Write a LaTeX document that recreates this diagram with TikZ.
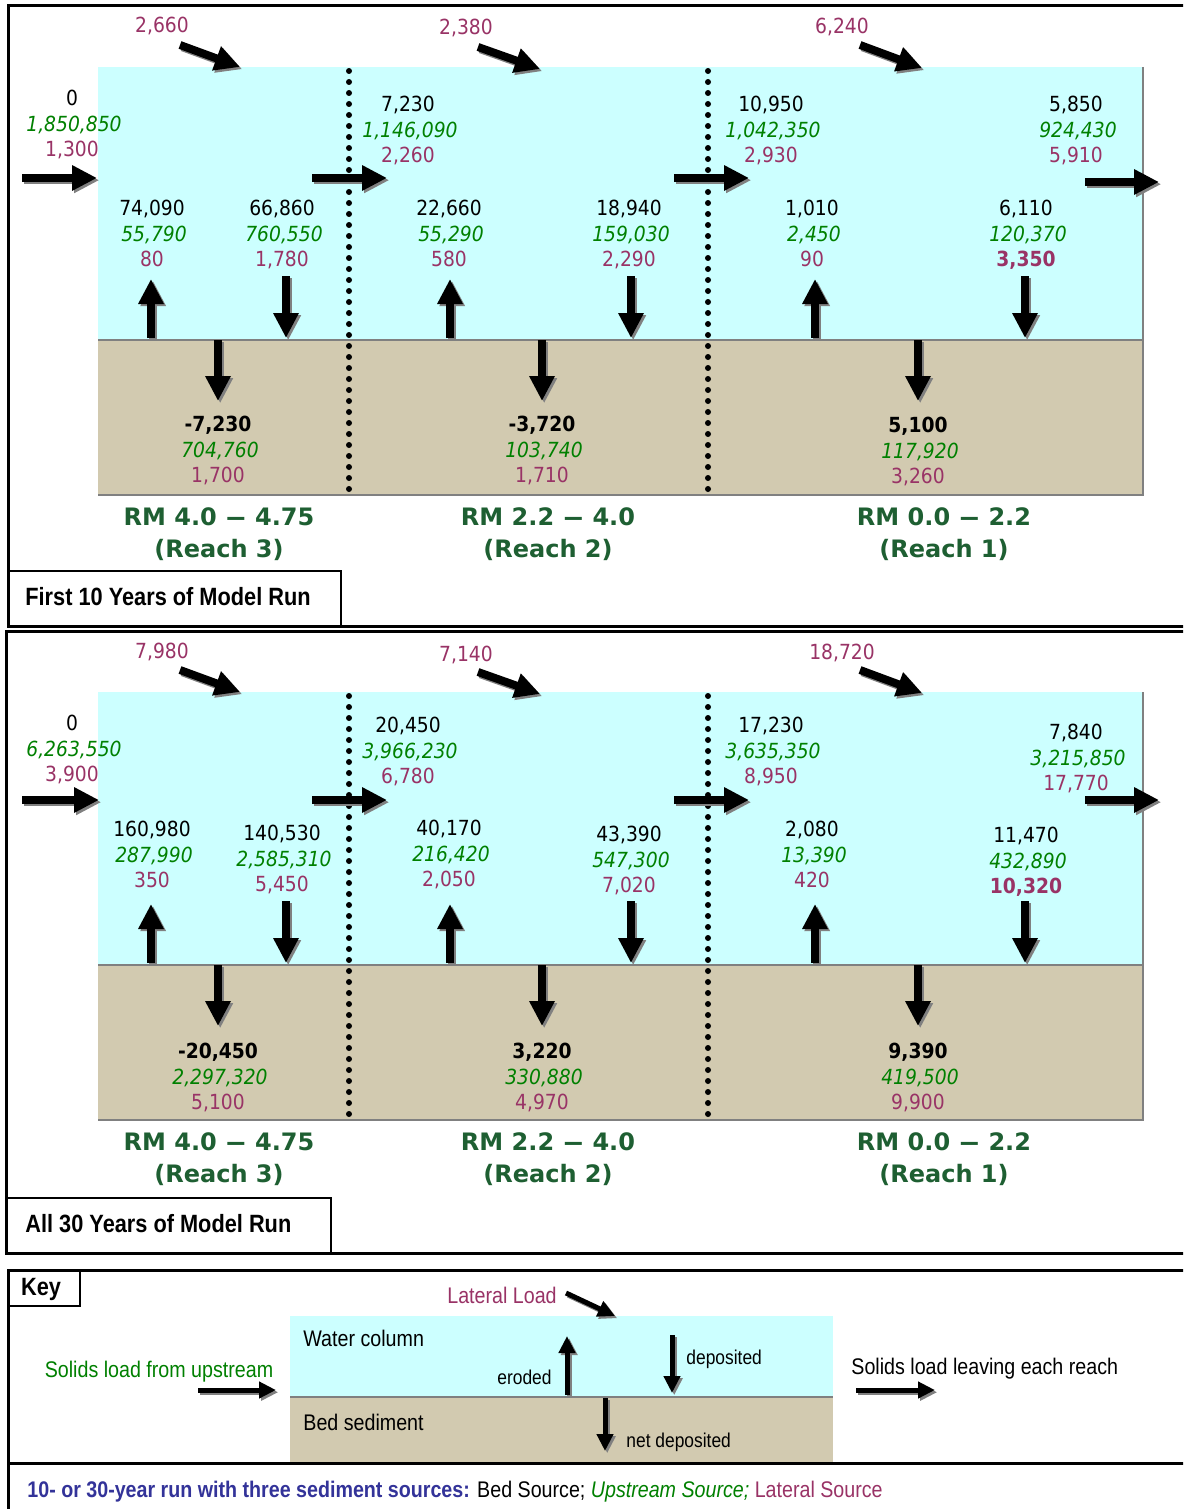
\documentclass[tikz,border=0pt]{standalone}
\usepackage{fontspec}
\setmainfont{Liberation Sans}
\newfontfamily\numf{DejaVu Sans Condensed}
\newfontfamily\labf{DejaVu Sans}
\newfontfamily\narrowf[FakeStretch=0.87]{Liberation Sans}
\usetikzlibrary{arrows.meta}

\definecolor{waterc}{HTML}{CCFFFF}
\definecolor{bedc}{HTML}{D2CAB0}
\definecolor{plum}{HTML}{993366}
\definecolor{grn}{HTML}{008000}
\definecolor{rmgreen}{HTML}{1E5F32}
\definecolor{ftblue}{HTML}{333399}

\newcommand\numsize{\fontsize{10.4pt}{12pt}\selectfont}
% wide dash used in the reach ranges
\newcommand\rmdash{\scalebox{1.8}[1]{–}}

\tikzset{
  bigarrow/.style={line width=4pt, -{Triangle[length=12.5pt,width=12pt]}},
  keyarrow/.style={line width=2.5pt, -{Triangle[length=8.5pt,width=8pt]}},
  num/.style={anchor=base, inner sep=0pt, font=\numf\numsize},
  reach/.style={anchor=base, inner sep=0pt, text=rmgreen, font=\labf\bfseries\fontsize{12pt}{14pt}\selectfont},
  keytxt/.style={inner sep=0pt, font=\narrowf\fontsize{11.3pt}{13pt}\selectfont},
  smalltxt/.style={inner sep=0pt, font=\narrowf\fontsize{10pt}{12pt}\selectfont},
  titletxt/.style={anchor=base west, inner sep=0pt, font=\narrowf\bfseries\fontsize{12.5pt}{14pt}\selectfont},
  frame/.style={line width=1.5pt},
  tabbox/.style={line width=1.1pt},
  edge/.style={black!50, line width=1.2pt},
  dots/.style={line width=3pt, line cap=round, dash pattern=on 0pt off 5.5pt},
}

% block arrow with a grey drop shadow, between two named coordinates
\newcommand\flow[4][bigarrow]{%
  \coordinate (#2-a) at (#3);
  \coordinate (#2-b) at (#4);
  \draw[#1, black!50, transform canvas={shift={(1.1pt,-1.1pt)}}] (#2-a) -- (#2-b);
  \draw[#1, black] (#2-a) -- (#2-b);}

% three stacked loads: bed (black), upstream (green italic), lateral (plum)
\newcommand\vals[6]{%
  \node[num] (#1-a) at (#2,#3+7.5) {#4};
  \node[num, text=grn, font=\numf\numsize\itshape] (#1-b) at (#2+2,#3+33.2) {#5};
  \node[num, text=plum] (#1-c) at (#2,#3+58.9) {#6};}

% water column, bed and reach dividers of one model run
\newcommand\reaches[2]{%
  \fill[waterc] (98,67+#2) rectangle (1143,340+#2);
  \fill[bedc] (98,340+#2) rectangle (1143,495+#2);
  \draw[edge] (98,340+#2) -- (1143,340+#2);
  \draw[edge] (1143,67+#2) -- (1143,495+#2) -- (98,495+#2);
  \draw[dots] (349,71+#2) -- (349,494+#2);
  \draw[dots] (708,71+#2) -- (708,494+#2);
  \node[reach] (#1-r3a) at (219,525.5+#2) {RM 4.0 \rmdash{} 4.75};
  \node[reach] (#1-r3b) at (219,557.5+#2) {(Reach 3)};
  \node[reach] (#1-r2a) at (548,525.5+#2) {RM 2.2 \rmdash{} 4.0};
  \node[reach] (#1-r2b) at (548,557.5+#2) {(Reach 2)};
  \node[reach] (#1-r1a) at (944,525.5+#2) {RM 0.0 \rmdash{} 2.2};
  \node[reach] (#1-r1b) at (944,557.5+#2) {(Reach 1)};
  % lateral loads
  \flow{#1-l3}{180,45+#2}{240,67+#2}
  \flow{#1-l2}{478,47+#2}{540,69+#2}
  \flow{#1-l1}{860,45+#2}{922,68+#2}
  % erosion (up) and deposition (down)
  \flow{#1-e3}{151,338+#2}{151,279+#2}
  \flow{#1-e2}{450,338+#2}{450,279+#2}
  \flow{#1-e1}{815,338+#2}{815,279+#2}
  \flow{#1-d3}{286,276+#2}{286,338+#2}
  \flow{#1-d2}{631,276+#2}{631,338+#2}
  \flow{#1-d1}{1025,276+#2}{1025,338+#2}
  % net deposition into the bed
  \flow{#1-n3}{218,340+#2}{218,401+#2}
  \flow{#1-n2}{542,340+#2}{542,401+#2}
  \flow{#1-n1}{918,340+#2}{918,401+#2}}

\begin{document}
\begin{tikzpicture}[x=0.5pt, y=-0.5pt]
\useasboundingbox (0,0) rectangle (1183,1509);
\clip (0,0) rectangle (1183,1509);
\fill[white] (0,0) rectangle (1183,1509);

% ---------- first 10 years ----------
\reaches{pa}{0}
\flow{pa-in}{22,178}{97,178}
\flow{pa-h2}{312,178}{387,178}
\flow{pa-h1}{674,178}{749,178}
\flow{pa-out}{1085,182}{1159,182}

\node[num, text=plum] (pa-lat3) at (162,25+7.5) {2,660};
\node[num, text=plum] (pa-lat2) at (466,27+7.5) {2,380};
\node[num, text=plum] (pa-lat1) at (842,26+7.5) {6,240};

\vals{pa-up}{72}{98}{0}{1,850,850}{1,300}
\vals{pa-m2}{408}{104}{7,230}{1,146,090}{2,260}
\vals{pa-m1}{771}{104}{10,950}{1,042,350}{2,930}
\vals{pa-ot}{1076}{104}{5,850}{924,430}{5,910}
\vals{pa-e3v}{152}{208}{74,090}{55,790}{80}
\vals{pa-d3v}{282}{208}{66,860}{760,550}{1,780}
\vals{pa-e2v}{449}{208}{22,660}{55,290}{580}
\vals{pa-d2v}{629}{208}{18,940}{159,030}{2,290}
\vals{pa-e1v}{812}{208}{1,010}{2,450}{90}
\vals{pa-d1v}{1026}{208}{6,110}{120,370}{\bfseries 3,350}
\vals{pa-n3v}{218}{424}{\bfseries -7,230}{704,760}{1,700}
\vals{pa-n2v}{542}{424}{\bfseries -3,720}{103,740}{1,710}
\vals{pa-n1v}{918}{425}{\bfseries 5,100}{117,920}{3,260}

\draw[frame] (1200,6) -- (8,6) -- (8,626) -- (1200,626);
\draw[tabbox] (8,571) rectangle (341,626);
\node[titletxt] (pa-title) at (25,605) {First 10 Years of Model Run};

% ---------- all 30 years ----------
\reaches{pb}{625}
\flow{pb-in}{22,800}{99,800}
\flow{pb-h2}{312,800}{387,800}
\flow{pb-h1}{674,800}{749,800}
\flow{pb-out}{1085,800}{1159,800}

\node[num, text=plum] (pb-lat3) at (162,651+7.5) {7,980};
\node[num, text=plum] (pb-lat2) at (466,654+7.5) {7,140};
\node[num, text=plum] (pb-lat1) at (842,652+7.5) {18,720};

\vals{pb-up}{72}{723}{0}{6,263,550}{3,900}
\vals{pb-m2}{408}{725}{20,450}{3,966,230}{6,780}
\vals{pb-m1}{771}{725}{17,230}{3,635,350}{8,950}
\vals{pb-ot}{1076}{732}{7,840}{3,215,850}{17,770}
\vals{pb-e3v}{152}{829}{160,980}{287,990}{350}
\vals{pb-d3v}{282}{833}{140,530}{2,585,310}{5,450}
\vals{pb-e2v}{449}{828}{40,170}{216,420}{2,050}
\vals{pb-d2v}{629}{834}{43,390}{547,300}{7,020}
\vals{pb-e1v}{812}{829}{2,080}{13,390}{420}
\vals{pb-d1v}{1026}{835}{11,470}{432,890}{\bfseries 10,320}
\vals{pb-n3v}{218}{1051}{\bfseries -20,450}{2,297,320}{5,100}
\vals{pb-n2v}{542}{1051}{\bfseries 3,220}{330,880}{4,970}
\vals{pb-n1v}{918}{1051}{\bfseries 9,390}{419,500}{9,900}

\draw[frame] (1200,631) -- (6,631) -- (6,1253) -- (1200,1253);
\draw[tabbox] (6,1198) rectangle (331,1253);
\node[titletxt] (pb-title) at (25,1232) {All 30 Years of Model Run};

% ---------- key ----------
\fill[waterc] (290,1316) rectangle (833,1397);
\fill[bedc] (290,1397) rectangle (833,1462);
\draw[edge] (290,1397) -- (833,1397);
\draw[frame] (1200,1270) -- (8,1270) -- (8,1509);
\draw[frame] (8,1463) -- (1200,1463);
\draw[tabbox] (8,1270) rectangle (80,1306);
\node[titletxt, anchor=base] (k-key) at (41,1295) {Key};

\node[keytxt, anchor=base west] (k-water) at (303,1346) {Water column};
\node[keytxt, anchor=base west] (k-bed) at (303,1430) {Bed sediment};
\node[keytxt, anchor=base, text=plum] (k-lat) at (502,1303) {Lateral Load};
\node[keytxt, anchor=base, text=grn] (k-up) at (159,1377) {Solids load from upstream};
\node[keytxt, anchor=base west] (k-out) at (851,1374) {Solids load leaving each reach};
\node[smalltxt, anchor=base east] (k-ero) at (552,1384) {eroded};
\node[smalltxt, anchor=base west] (k-dep) at (686,1364) {deposited};
\node[smalltxt, anchor=base west] (k-net) at (626,1447) {net deposited};

\flow[keyarrow]{k-la}{566,1293}{615,1316}
\flow[keyarrow]{k-ua}{198,1390}{276,1390}
\flow[keyarrow]{k-oa}{856,1390}{935,1390}
\flow[keyarrow]{k-ea}{567,1395}{567,1336}
\flow[keyarrow]{k-da}{672,1335}{672,1393}
\flow[keyarrow]{k-na}{605,1398}{605,1451}

% ---------- footer ----------
\node[keytxt, anchor=base west] (k-foot) at (27,1497)
  {{\color{ftblue}\bfseries 10- or 30-year run with three sediment sources:} Bed Source; {\color{grn}\itshape Upstream Source;} {\color{plum}Lateral Source}};
\end{tikzpicture}
\end{document}
